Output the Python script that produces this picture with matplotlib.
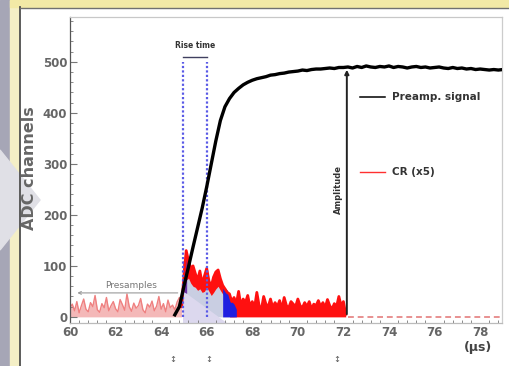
"""Preamp signal vs CR (x5) trace, recreated from a photographed ROOT plot."""

import matplotlib.pyplot as plt
import numpy as np
from matplotlib.lines import Line2D
from matplotlib.patches import Polygon, Rectangle

# preamp signal, sampled every 0.2 us starting at 64.6 us
preamp_t0, preamp_dt = 64.6, 0.2
preamp_adc = [
    4, 20, 60, 98, 137, 175, 213, 255, 300, 345, 385, 412, 428, 440, 448, 455,
    460, 464, 467, 469, 471, 474, 475, 477, 478, 480, 481, 482, 484, 483, 485,
    486, 486, 487, 488, 487, 489, 489,
    490, 488, 491, 489, 492, 490, 489, 491, 490, 492, 489, 491, 490, 488, 490,
    491, 489, 490, 488, 489, 490, 488, 487, 489, 487, 488, 486, 487, 485, 486,
    485, 484, 485, 484, 485,
]

# CR (x5), sampled every 0.1 us from 60.0 us
cr_t0, cr_dt = 60.0, 0.1
cr_presamples = [
    18, 25, 12, 30, 8, 22, 35, 15, 10, 28, 20, 42, 14, 9, 26, 18, 38, 12, 22, 30,
    16, 10, 34, 24, 13, 45, 20, 11, 27, 17, 22, 36, 14, 8, 25, 19, 31, 12, 21, 40,
    15, 26, 10, 33, 18, 23, 14, 29, 38, 20,
]
cr_pulse = [
    80, 130, 110, 95, 100, 85, 72, 90, 65, 80,
    95, 70, 60, 78, 88, 92, 75, 62, 55, 48,
    45, 30, 38, 25, 50, 22, 35, 28, 42, 20,
    30, 18, 48, 22, 15, 40, 25, 20, 35, 18,
    28, 20, 32, 15, 38, 22, 18, 30, 25, 20,
    35, 22, 18, 28, 20, 30, 15, 25, 22, 32,
    20, 28, 18, 34, 22, 15, 26, 20, 40, 22,
    30, 5,
]
# lower edge of the dense CR band, 65.0 .. 67.0 us
cr_pulse_low = [55, 72, 76, 66, 60, 58, 52, 55, 48, 50, 58, 50, 42, 48, 55, 60, 52, 45, 38, 30, 25]
cr_tail = [0, 0]
cr_tail_t = [72.2, 79.0]

# blue integration window under the CR
blue_t = [66.7, 66.8, 66.9, 67.0, 67.1, 67.2, 67.3]
blue_adc = [55, 58, 52, 45, 30, 25, 15]

rise_start, rise_end = 64.95, 66.02
amp_time = 72.15
xticks = [60, 62, 64, 66, 68, 70, 72, 74, 76, 78]
yticks = [0, 100, 200, 300, 400, 500]

W, H = 510, 366
fig = plt.figure(figsize=(W / 100, H / 100), dpi=100, facecolor="white")


def px(x, y):
    return x / W, 1 - y / H


# photographed slide frame
fig.add_artist(Rectangle((0, 0), 10 / W, 1, transform=fig.transFigure, color="#a6a6b6", zorder=0))
fig.add_artist(Rectangle((10 / W, 0), 9 / W, 1, transform=fig.transFigure, color="#f4efc6", zorder=0))
fig.add_artist(Rectangle(px(10, 7), 500 / W, 7 / H, transform=fig.transFigure, color="#f2e9a6", zorder=0))
fig.add_artist(Line2D([19.5 / W, 19.5 / W], [0, 1 - 7 / H], transform=fig.transFigure, color="#505050", lw=1.3))
fig.add_artist(Line2D([19.5 / W, 1], [1 - 7.5 / H] * 2, transform=fig.transFigure, color="#707070", lw=1.0))
fig.add_artist(Polygon([px(0, 150), px(40, 200), px(0, 250)], closed=True, transform=fig.transFigure,
                       color="#e0e0e6", zorder=0.5))

ax = fig.add_axes([70 / W, 43 / H, 432 / W, 306 / H])
ax.set_facecolor("white")

t_pre = cr_t0 + cr_dt * np.arange(len(cr_presamples))
t_pulse = t_pre[-1] + cr_dt * np.arange(1, len(cr_pulse) + 1)
pre = np.array(cr_presamples)
pulse = np.array(cr_pulse)

# presample noise (faded)
ax.fill_between(t_pre, 0, pre, color="#f4b8b8", lw=0, zorder=1)
ax.plot(t_pre, pre, color="#ef8080", lw=1.0, zorder=2)

# light shading below the leading edge of the CR
lead = t_pulse <= 67.2
ax.fill_between(np.r_[rise_start, t_pulse[lead]], 0, np.r_[50, pulse[lead]], color="#c9cee2", lw=0, zorder=1)
ax.add_patch(Polygon([(rise_start, 50), (rise_start, -12), (66.9, -12)], closed=True,
                     color="#dcd8ee", lw=0, zorder=1.2))

# dense red band on the leading part
band_t = t_pulse[:len(cr_pulse_low)]
ax.fill_between(band_t, cr_pulse_low, pulse[:len(cr_pulse_low)], color="#ff1010", lw=0, zorder=2)
ax.fill_between([rise_start, 65.12], [50, 46], [108, 125], color="#6a2fa6", lw=0, zorder=2.5)

# dense CR after the peak
tail = t_pulse >= 67.0
ax.fill_between(t_pulse[tail], 0, pulse[tail], color="#ff1010", lw=0, zorder=2)
ax.fill_between(blue_t, 0, blue_adc, color="#1f1fe0", lw=0, zorder=2.6)
ax.plot(np.r_[t_pre[-1], t_pulse], np.r_[pre[-1], pulse], color="#ff1010", lw=2.0, zorder=3)
ax.plot(cr_tail_t, cr_tail, color="#e89090", lw=1.4, ls=(0, (3, 2)), zorder=3)

# preamp signal
t_sig = preamp_t0 + preamp_dt * np.arange(len(preamp_adc))
ax.plot(t_sig, preamp_adc, color="black", lw=2.4, zorder=4)

# rise time markers
for t in (rise_start, rise_end):
    ax.plot([t, t], [0, 500], color="#5a5ae6", lw=1.6, ls=(0, (1, 1)), zorder=3.5)
ax.plot([rise_start, rise_end], [510, 510], color="#404060", lw=1.0)
ax.text((rise_start + rise_end) / 2, 533, "Rise time", ha="center", va="center",
        fontsize=5.5, fontweight="bold", color="#333333")

# presamples arrow
ax.annotate("", xy=(60.2, 47), xytext=(64.85, 47),
            arrowprops=dict(arrowstyle="->", color="#9a9a9a", lw=0.8, mutation_scale=5))
ax.text(62.7, 61, "Presamples", ha="center", va="center", fontsize=6.5, color="#777777")

# amplitude arrow
ax.annotate("", xy=(amp_time, max(preamp_adc) - 2), xytext=(amp_time, 0),
            arrowprops=dict(arrowstyle="-|>", color="#222222", lw=1.4, mutation_scale=6))
ax.text(71.78, 249, "Amplitude", rotation=90, ha="center", va="center",
        fontsize=6, fontweight="bold", color="#333333")

# legend entries
ax.add_line(Line2D([0.671, 0.729], [0.739, 0.739], transform=ax.transAxes, color="black", lw=1.1))
ax.text(0.745, 0.739, "Preamp. signal", transform=ax.transAxes, va="center",
        fontsize=7.5, fontweight="bold", color="#333333")
ax.add_line(Line2D([0.671, 0.729], [0.493, 0.493], transform=ax.transAxes, color="#ff3030", lw=1.0))
ax.text(0.745, 0.493, "CR (x5)", transform=ax.transAxes, va="center",
        fontsize=7.5, fontweight="bold", color="#333333")

ax.set_xlim(60, 78.96)
ax.set_ylim(-12, 588)
ax.set_xticks(xticks)
ax.set_yticks(yticks)
ax.set_xticks(np.arange(60, 79, 0.4), minor=True)
ax.set_yticks(np.arange(0, 581, 20), minor=True)
ax.tick_params(which="both", direction="in", colors="#777777", labelcolor="#666666",
               labelsize=8.5, pad=2)
ax.tick_params(which="major", length=5, width=0.8)
ax.tick_params(which="minor", length=2.5, width=0.6)
for lab in ax.get_xticklabels() + ax.get_yticklabels():
    lab.set_fontweight("bold")
ax.tick_params(axis="x", top=False, bottom=False)
for side, col in [("left", "#555555"), ("bottom", "#bbbbbb"), ("top", "#c8c8c8"), ("right", "#cccccc")]:
    ax.spines[side].set_color(col)
    ax.spines[side].set_linewidth(0.9)

fig.text(30 / W, 1 - 168 / H, "ADC channels", rotation=90, ha="center", va="center",
         fontsize=11.5, fontweight="bold", color="#666666")
fig.text(478 / W, 1 - 348 / H, "(\u00b5s)", ha="center", va="center",
         fontsize=9, fontweight="bold", color="#444444")
for x in (173, 209, 337):
    fig.text(x / W, 1 - 360 / H, "\u2195", ha="center", va="center", fontsize=6, color="#555555")

fig.savefig("out.png", dpi=100, facecolor=fig.get_facecolor())
